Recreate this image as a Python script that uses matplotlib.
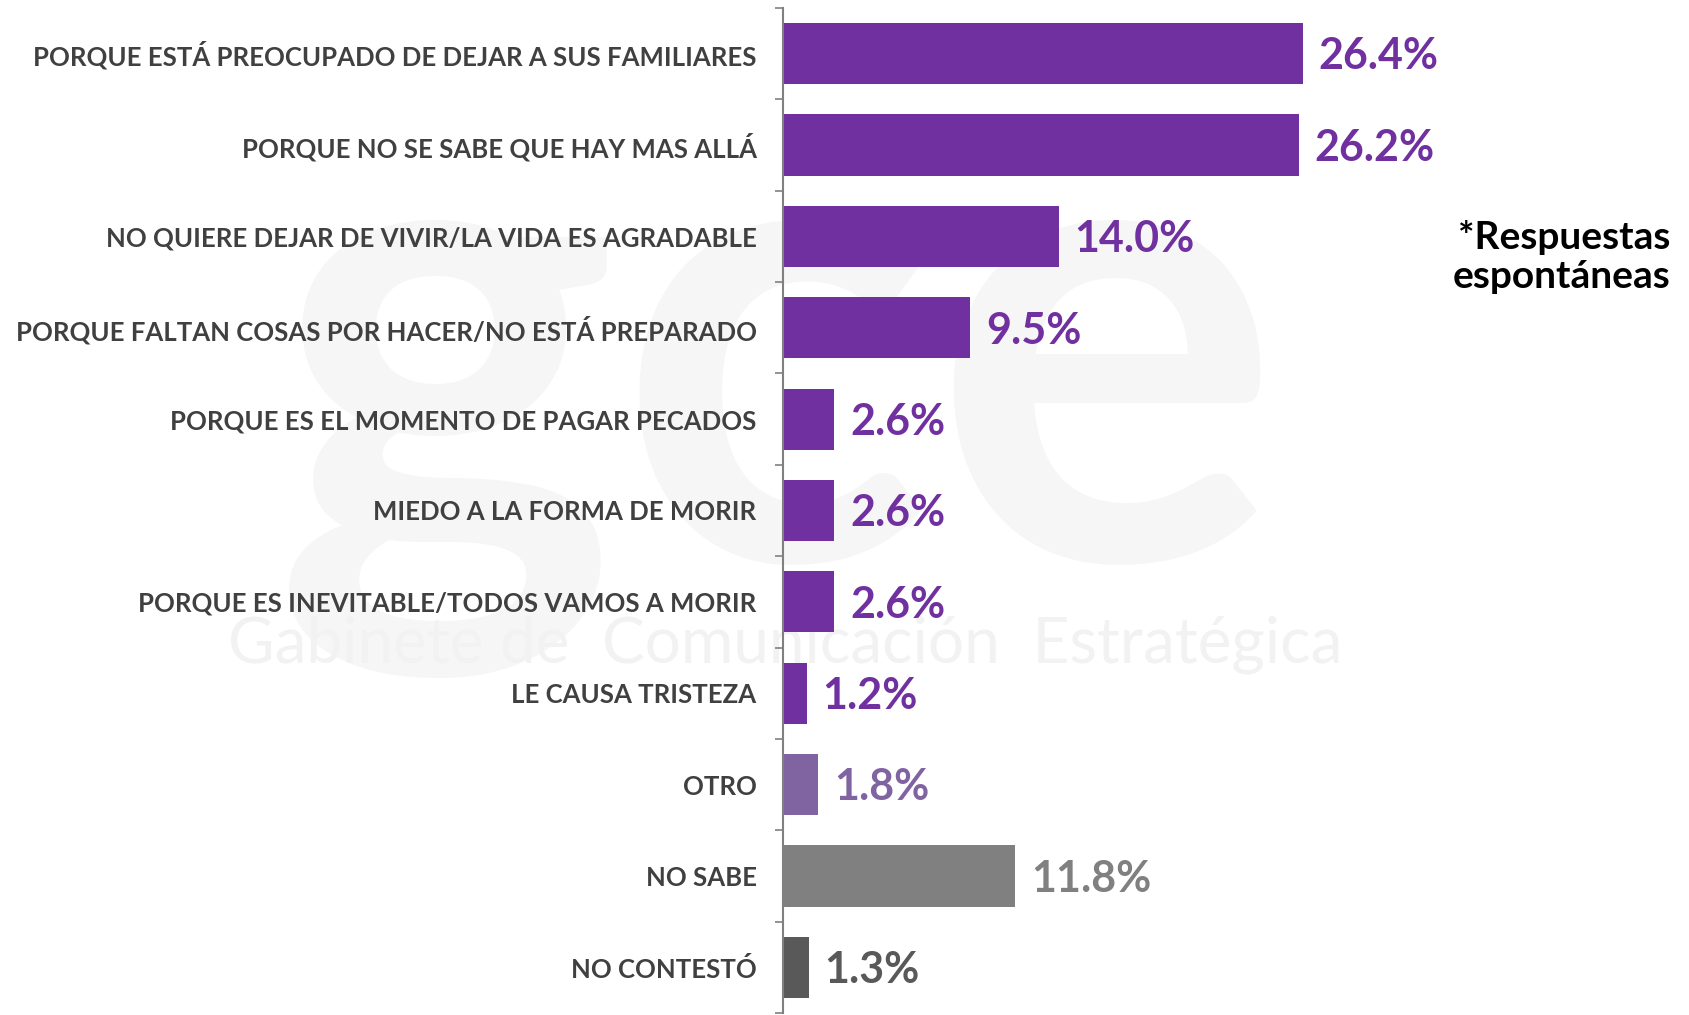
"""
Razones de miedo a la muerte - barras horizontales.
"""

import matplotlib
matplotlib.use('Agg')
import matplotlib.pyplot as plt

categories = [
    "PORQUE ESTÁ PREOCUPADO DE DEJAR A SUS FAMILIARES",
    "PORQUE NO SE SABE QUE HAY MAS ALLÁ",
    "NO QUIERE DEJAR DE VIVIR/LA VIDA ES AGRADABLE",
    "PORQUE FALTAN COSAS POR HACER/NO ESTÁ PREPARADO",
    "PORQUE ES EL MOMENTO DE PAGAR PECADOS",
    "MIEDO A LA FORMA DE MORIR",
    "PORQUE ES INEVITABLE/TODOS VAMOS A MORIR",
    "LE CAUSA TRISTEZA",
    "OTRO",
    "NO SABE",
    "NO CONTESTÓ",
]
values = [26.4, 26.2, 14.0, 9.5, 2.6, 2.6, 2.6, 1.2, 1.8, 11.8, 1.3]
bar_colors = ['#7030A0'] * 8 + ['#8064A2', '#808080', '#595959']

FONT = 'Lato'

fig = plt.figure(figsize=(16.89, 10.15), dpi=100)

# faint watermark behind the chart
fig.text(0.46, 0.625, 'gce', fontsize=470, family=FONT, fontweight='bold',
         color='#f6f6f6', ha='center', va='center', zorder=0)
fig.text(0.465, 0.365, 'Gabinete de  Comunicación  Estratégica', fontsize=46,
         family=FONT, color='#f2f2f2', ha='center', va='center', zorder=0)

ax = fig.add_axes([783 / 1689, 2 / 1015, 1 - 783 / 1689, 1005 / 1015])
ax.set_zorder(1)
ax.patch.set_alpha(0)

y = list(range(len(categories)))
ax.barh(y, values, height=0.67, color=bar_colors, zorder=2)

for yi, v, c in zip(y, values, bar_colors):
    ax.text(v + 0.8, yi + 0.03, f'{v:.1f}%', color=c, fontsize=31,
            family=FONT, fontweight='bold', va='center', ha='left')

ax.set_xlim(0, 46)
ax.set_ylim(len(categories) - 0.5, -0.5)

ax.set_yticks(y)
ax.set_yticklabels(categories, fontsize=18.5, family=FONT,
                   fontweight='bold', color='#404040')
ax.tick_params(axis='y', which='major', length=0, pad=19)
ax.set_yticks([k - 0.5 for k in range(len(categories) + 1)], minor=True)
ax.tick_params(axis='y', which='minor', length=6, width=1.2, color='#808080')
ax.set_xticks([])

for s in ['top', 'right', 'bottom']:
    ax.spines[s].set_visible(False)
ax.spines['left'].set_color('#808080')
ax.spines['left'].set_linewidth(1.5)

fig.text(1670 / 1689, 1 - 257 / 1015, '*Respuestas\nespontáneas', fontsize=28,
         family=FONT, fontweight='bold', color='black', ha='right', va='center',
         linespacing=1.15)

plt.savefig('out.png', dpi=100)
plt.close()
